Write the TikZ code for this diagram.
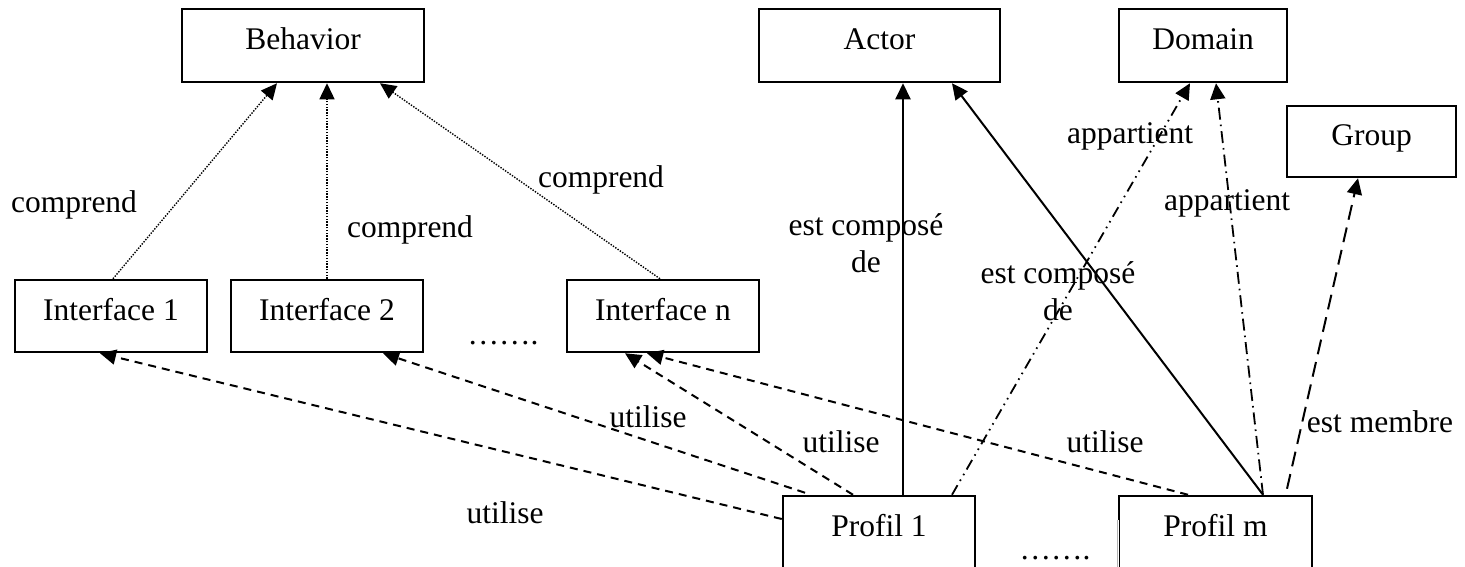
\documentclass[tikz,border=0pt]{standalone}
\usepackage{fontspec}
\setmainfont{Liberation Serif}
\usetikzlibrary{arrows.meta}
\begin{document}
\begin{tikzpicture}[x=1pt,y=-1pt,
  txt/.style={font=\fontsize{31.5}{37}\selectfont},
  box/.style={txt, draw, line width=2.5pt, minimum height=72pt, inner sep=0pt,
              text height=14pt, text depth=6pt},
  lbl/.style={txt, inner sep=0pt, anchor=base},
  tip/.style={-{Triangle[length=16pt,width=15pt]}},
  cmp/.style={tip, line width=1.4pt, dash pattern=on 1.4pt off 1.4pt},
  use/.style={tip, line width=2pt, dash pattern=on 8pt off 6pt},
  part/.style={tip, line width=2pt},
  belong2/.style={tip, line width=1.8pt, dash pattern=on 11pt off 5pt on 1.6pt off 5pt on 1.6pt off 5pt},
  belong1/.style={tip, line width=1.8pt, dash pattern=on 12pt off 5pt on 1.6pt off 5pt},
  member/.style={tip, line width=2pt, dash pattern=on 15pt off 8pt}]
\useasboundingbox (0,0) rectangle (1465,566);
\clip (0,0) rectangle (1465,566);

% classes
\node[box, minimum width=242pt, minimum height=73pt] (beh) at (303,45.5) {Behavior};
\node[box, minimum width=241pt, minimum height=73pt] (actor) at (879.5,45.5) {Actor};
\node[box, minimum width=168pt, minimum height=73pt] (domain) at (1203,45.5) {Domain};
\node[box, minimum width=169pt, minimum height=71pt] (group) at (1371.5,141.5) {Group};

\node[box, minimum width=192pt] (int1) at (111,316) {Interface 1};
\node[box, minimum width=192pt] (int2) at (327,316) {Interface 2};
\node[box, minimum width=192pt] (intn) at (663,316) {Interface n};

\node[box, minimum width=192pt] (p1) at (879,532) {Profil 1};
\node[box, minimum width=193pt] (pm) at (1215.5,532) {Profil m};
% lower left edge of Profil m is covered and shows only a faint trace
\draw[white, line width=3.2pt] ([yshift=12pt]pm.west) -- ([yshift=-4pt]pm.south west);
\draw[black!30, line width=0.6pt] ([yshift=12pt]pm.west) -- ([yshift=-4pt]pm.south west);

% interfaces belong to the behaviour
\draw[cmp] ([xshift=2pt]int1.north) -- ([xshift=-26pt]beh.south);
\draw[cmp] (int2.north) -- ([xshift=24pt]beh.south);
\draw[cmp] ([xshift=-3pt]intn.north) -- ([xshift=77pt]beh.south);

% profiles and actor
\draw[part] ([xshift=24pt]p1.north) -- ([xshift=23.5pt]actor.south);
\draw[part] ([xshift=47.5pt]pm.north) -- ([xshift=72.5pt]actor.south);

% profiles and domain
\draw[belong2] ([xshift=73pt]p1.north) -- ([xshift=-13pt]domain.south);
\draw[belong1] ([xshift=47.5pt]pm.north) -- ([xshift=13pt]domain.south);

% profile and group
\draw[member] ([xshift=71.5pt,yshift=6pt]pm.north) -- ([xshift=-13.5pt]group.south);

% profiles use interfaces
\draw[use] ([yshift=13pt]p1.west) -- ([xshift=-11pt]int1.south);
\draw[use] ([xshift=-74pt,yshift=2pt]p1.north) -- ([xshift=56pt]int2.south);
\draw[use] ([xshift=-26pt]p1.north) -- ([xshift=-38pt]intn.south);
\draw[use] ([xshift=-27.5pt]pm.north) -- ([xshift=-16pt]intn.south);

% labels
\node[lbl] (c1) at (74,212) {comprend};
\node[lbl] (c2) at (410,237) {comprend};
\node[lbl] (c3) at (601,187) {comprend};
\node[lbl, align=center] (e1) at (866,272) {est composé\\de};
\node[lbl, align=center] (e2) at (1058,320) {est composé\\de};
\node[lbl] (a1) at (1130,143) {appartient};
\node[lbl] (a2) at (1227,210) {appartient};
\node[lbl] (m1) at (1380,432) {est membre};
\node[lbl] (u1) at (505,523) {utilise};
\node[lbl] (u2) at (648,427) {utilise};
\node[lbl] (u3) at (841,452) {utilise};
\node[lbl] (u4) at (1105,452) {utilise};
\node[lbl] (d1) at (503,344) {…….};
\node[lbl] (d2) at (1055,559) {…….};
\end{tikzpicture}
\end{document}
